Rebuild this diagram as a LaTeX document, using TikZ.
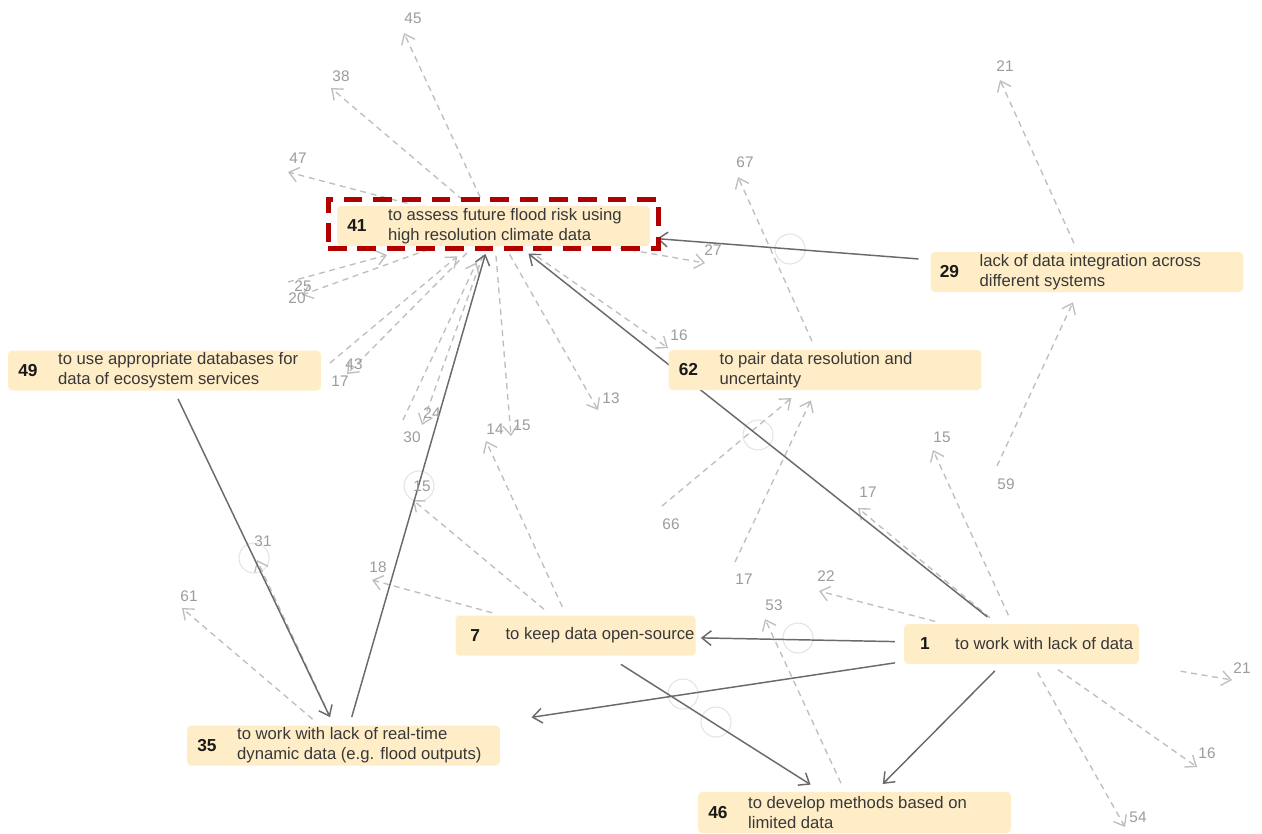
\documentclass[tikz,border=0pt]{standalone}
\usepackage{fontspec}
\setmainfont{Liberation Sans}
\usetikzlibrary{arrows.meta,calc}
\definecolor{boxfill}{HTML}{FFEDC8}
\definecolor{solidc}{HTML}{6A6A6A}
\definecolor{dashc}{HTML}{BEBEBE}
\definecolor{labc}{HTML}{9C9C9C}
\definecolor{redc}{HTML}{B00000}
\definecolor{txtc}{HTML}{383838}
\definecolor{numc}{HTML}{1A1A1A}
\definecolor{circc}{HTML}{E4E4E4}
\pgfdeclarelayer{bglayer}
\pgfdeclarelayer{edgelayer}
\pgfsetlayers{bglayer,edgelayer,main}
\begin{document}
\begin{tikzpicture}[x=0.75pt,y=-0.75pt,
  box/.style={fill=boxfill, rounded corners=3pt, inner sep=0pt, minimum height=30pt},
  wide/.style={minimum width=234.5pt},
  txt/.style={align=left, inner sep=0pt, anchor=west, text=txtc, font=\fontsize{12.5}{15}\selectfont},
  num/.style={inner sep=0pt, text=numc, font=\fontsize{13}{15}\selectfont\bfseries},
  lab/.style={inner sep=0pt, text=labc, font=\fontsize{11.5}{13}\selectfont},
  tipv/.style={-{Straight Barb[length=7pt,width=11pt]}},
  sol/.style={draw=solidc, line width=1.1pt, tipv},
  dsh/.style={draw=dashc, line width=1pt, dash pattern=on 4.5pt off 3.5pt, tipv},
  ring/.style={draw=circc, line width=0.8pt}
]
\begin{pgfonlayer}{bglayer}
\fill[white] (0,0) rectangle (1262,833);
\end{pgfonlayer}
\useasboundingbox (0,0) rectangle (1262,833);

% ---- boxes ----
\node[box, wide] (n41) at (493.5,226) {};
\node[box, wide] (n29) at (1087,272) {};
\node[box, wide] (n62) at (825,370) {};
\node[box, wide] (n49) at (164.5,370.5) {};
\node[box, minimum width=180pt] (n7) at (575.5,635.5) {};
\node[box, minimum width=176pt] (n1) at (1021.5,644) {};
\node[box, wide] (n35) at (343.5,745.5) {};
\node[box, wide, minimum height=31pt] (n46) at (854.5,812.5) {};

\node[draw=redc, line width=3.75pt, dash pattern=on 14pt off 8pt, inner sep=0pt,
      minimum width=247.5pt, minimum height=36.75pt] (hl) at (493,223.5) {};

% ---- numbers and texts ----
\node[num] (k41) at ($(n41.west)+(20,0)$) {41};
\node[txt] (t41) at ($(n41.west)+(51,0)$) {to assess future flood risk using\\high resolution climate data};
\node[num] (k29) at ($(n29.west)+(19,0)$) {29};
\node[txt] (t29) at ($(n29.west)+(49,0)$) {lack of data integration across\\different systems};
\node[num] (k62) at ($(n62.west)+(20,0)$) {62};
\node[txt] (t62) at ($(n62.west)+(51,0)$) {to pair data resolution and\\uncertainty};
\node[num] (k49) at ($(n49.west)+(20,0)$) {49};
\node[txt] (t49) at ($(n49.west)+(50,0)$) {to use appropriate databases for\\data of ecosystem services};
\node[num] (k7) at ($(n7.west)+(20,0)$) {7};
\node[txt] (t7) at ($(n7.west)+(50,0)$) {to keep data open-source};
\node[num] (k1) at ($(n1.west)+(21,0)$) {1};
\node[txt] (t1) at ($(n1.west)+(51,0)$) {to work with lack of data};
\node[num] (k35) at ($(n35.west)+(20,0)$) {35};
\node[txt] (t35) at ($(n35.west)+(50,0)$) {to work with lack of real-time\\dynamic data (e.g. flood outputs)};
\node[num] (k46) at ($(n46.west)+(20,0)$) {46};
\node[txt] (t46) at ($(n46.west)+(50,0)$) {to develop methods based on\\limited data};

% ---- free ends of the dashed links ----
\coordinate (e45) at (404,33);
\coordinate (e38) at (331,88);
\coordinate (e47) at (288,172);
\coordinate (e27) at (705,263);
\coordinate (e16a) at (668,348);
\coordinate (e13) at (598,410);
\coordinate (e15a) at (511,436);
\coordinate (e24) at (422,425);
\coordinate (e43) at (347,374);
\coordinate (e20) at (302,295);
\coordinate (s25) at (288,282);
\coordinate (s17a) at (330,363);
\coordinate (s30) at (403,420);
\coordinate (e21a) at (1000,80);
\coordinate (s59) at (997,466);
\coordinate (e67) at (738,177);
\coordinate (s66) at (662,506);
\coordinate (s17b) at (735,562);
\coordinate (e14) at (486,441);
\coordinate (e15b) at (413,500);
\coordinate (e18) at (372,580);
\coordinate (e61) at (182,608);
\coordinate (e31) at (257,560);
\coordinate (e17c) at (858,508);
\coordinate (e15c) at (933,450);
\coordinate (e22) at (819,591);
\coordinate (e21b) at (1232,680);
\coordinate (e16b) at (1197,767);
\coordinate (e54) at (1125,827);
\coordinate (e53) at (765,619);

% ---- labels ----
\node[lab] (l45) at (413,18) {45};
\node[lab] (l38) at (341,76) {38};
\node[lab] (l47) at (298,158) {47};
\node[lab] (l27) at (713,250) {27};
\node[lab] (l25) at (303,286) {25};
\node[lab] (l20) at (297,298) {20};
\node[lab] (l16a) at (679,335) {16};
\node[lab] (l43) at (354,364) {43};
\node[lab] (l17a) at (340,381) {17};
\node[lab] (l13) at (611,398) {13};
\node[lab] (l24) at (432,413) {24};
\node[lab] (l30) at (412,437) {30};
\node[lab] (l14) at (495,429) {14};
\node[lab] (l15a) at (522,425) {15};
\node[lab] (l15b) at (422,486) {15};
\node[lab] (l18) at (378,567) {18};
\node[lab] (l31) at (263,541) {31};
\node[lab] (l61) at (189,596) {61};
\node[lab] (l66) at (671,524) {66};
\node[lab] (l17b) at (744,579) {17};
\node[lab] (l67) at (745,162) {67};
\node[lab] (l21a) at (1005,66) {21};
\node[lab] (l59) at (1006,484) {59};
\node[lab] (l15c) at (942,437) {15};
\node[lab] (l17c) at (868,492) {17};
\node[lab] (l22) at (826,576) {22};
\node[lab] (l53) at (774,605) {53};
\node[lab] (l21b) at (1242,668) {21};
\node[lab] (l16b) at (1207,753) {16};
\node[lab] (l54) at (1138,817) {54};

\begin{pgfonlayer}{edgelayer}
% faint rings
\draw[ring] (790,249) circle[radius=15];
\draw[ring] (758,435) circle[radius=15];
\draw[ring] (419,486) circle[radius=15];
\draw[ring] (254,558) circle[radius=15];
\draw[ring] (798,638) circle[radius=15];
\draw[ring] (683,694) circle[radius=15];
\draw[ring] (716,722) circle[radius=15];

% dashed links
\draw[dsh, shorten <=7pt] (n41) -- (e45);
\draw[dsh, shorten <=7pt] (n41) -- (e38);
\draw[dsh, shorten <=7pt] (n41) -- (e47);
\draw[dsh, shorten <=8pt] (n41) -- (e27);
\draw[dsh, shorten <=13.5pt] (n41) -- (e16a);
\draw[dsh, shorten <=7pt] (n41) -- (e13);
\draw[dsh, shorten <=7pt] (n41) -- (e15a);
\draw[dsh, shorten <=7pt] (n41) -- (e24);
\draw[dsh, shorten <=7pt] (n41) -- (e43);
\draw[dsh, shorten <=7pt] (n41) -- (e20);
\draw[dsh, shorten >=25pt] (s25) -- (n41);
\draw[dsh, shorten >=11.7pt] (s17a) -- (n41);
\draw[dsh, shorten >=13.3pt] (s30) -- (n41);
\draw[dsh, shorten <=7pt] (n29) -- (e21a);
\draw[dsh, shorten >=8.3pt] (s59) -- (n29);
\draw[dsh, shorten <=7pt] (n62) -- (e67);
\draw[dsh, shorten >=9.2pt] (s66) -- (n62);
\draw[dsh, shorten >=8.3pt] (s17b) -- (n62);
\draw[dsh, shorten <=7pt] (n7) -- (e14);
\draw[dsh, shorten <=7pt] (n7) -- (e15b);
\draw[dsh, shorten <=7pt] (n7) -- (e18);
\draw[dsh, shorten <=7pt] (n35) -- (e61);
\draw[dsh, shorten <=7pt] (n35) -- (e31);
\draw[dsh, shorten <=7pt] (n1) -- (e17c);
\draw[dsh, shorten <=7pt] (n1) -- (e15c);
\draw[dsh, shorten <=7pt] (n1) -- (e22);
\draw[dsh, shorten <=31.5pt] (n1) -- (e21b);
\draw[dsh, shorten <=7pt] (n1) -- (e16b);
\draw[dsh, shorten <=7pt] (n1) -- (e54);
\draw[dsh, shorten <=7pt] (n46) -- (e53);

% solid links
\draw[sol, shorten <=9pt, shorten >=5.25pt] (n29) -- (n41);
\draw[sol, shorten <=8.25pt, shorten >=9pt] (n1) -- (n41);
\draw[sol, shorten <=6.4pt, shorten >=6pt] (n35) -- (n41);
\draw[sol, shorten <=6.75pt, shorten >=6.75pt] (n49) -- (n35);
\draw[sol, shorten <=6.75pt, shorten >=3.75pt] (n1) -- (n7);
\draw[sol, shorten <=6.75pt, shorten >=40pt] (n1) -- (n35);
\draw[sol, shorten <=12pt, shorten >=9.75pt] (n7) -- (n46);
\draw[sol, shorten <=7pt, shorten >=8pt] (n1) -- (n46);
\end{pgfonlayer}
\end{tikzpicture}
\end{document}
